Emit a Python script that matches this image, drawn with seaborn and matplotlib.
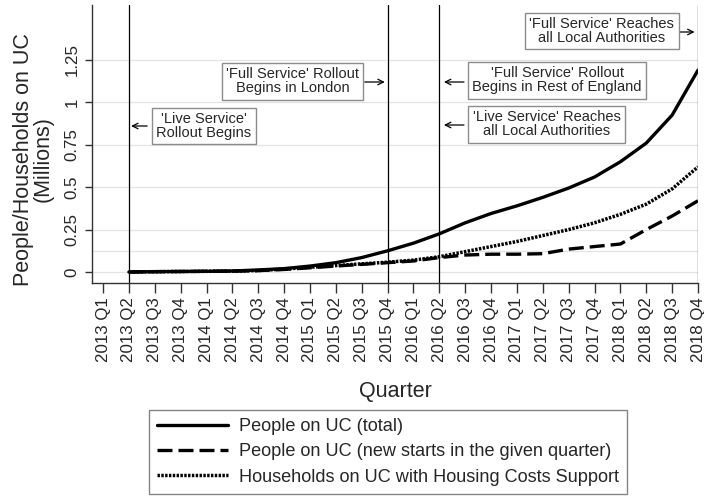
import numpy as np
import pandas as pd
import matplotlib
matplotlib.use("Agg")
import matplotlib.pyplot as plt
import seaborn as sns

quarters = [f"{y} Q{q}" for y in range(2013, 2019) for q in range(1, 5)]
people_total = [np.nan, 0.0, 0.002, 0.003, 0.004, 0.006, 0.012, 0.02, 0.035, 0.055, 0.085, 0.125,
                0.17, 0.225, 0.29, 0.345, 0.39, 0.44, 0.495, 0.56, 0.65, 0.76, 0.925, 1.19]
people_new = [np.nan, 0.0, 0.002, 0.003, 0.004, 0.005, 0.008, 0.015, 0.025, 0.035, 0.045, 0.055,
              0.065, 0.085, 0.10, 0.105, 0.105, 0.108, 0.135, 0.15, 0.165, 0.25, 0.33, 0.42]
households_hc = [np.nan, 0.0, 0.002, 0.003, 0.004, 0.005, 0.009, 0.017, 0.028, 0.038, 0.048, 0.058,
                 0.07, 0.09, 0.12, 0.15, 0.18, 0.215, 0.25, 0.29, 0.34, 0.40, 0.49, 0.62]
series_names = ["People on UC (total)",
                "People on UC (new starts in the given quarter)",
                "Households on UC with Housing Costs Support"]
event_quarters = ["2013 Q2", "2015 Q4", "2016 Q2", "2018 Q4"]
yticks = [0, 0.25, 0.5, 0.75, 1, 1.25]
ytick_labels = ["0", "0.25", "0.5", "0.75", "1", "1.25"]

sns.set_style("white")
plt.rcParams["font.family"] = ["Liberation Sans", "DejaVu Sans"]

fig = plt.figure(figsize=(7.04, 4.97), dpi=100)
ax = fig.add_axes([92/704, 1-283/497, (698-92)/704, (283-5)/497])

idx = np.arange(len(quarters))
df = pd.DataFrame({"idx": idx, "total": people_total, "new": people_new, "hh": households_hc})

sns.lineplot(data=df, x="idx", y="total", ax=ax, color="black", lw=2.4,
             label=series_names[0])
sns.lineplot(data=df, x="idx", y="new", ax=ax, color="black", lw=2.4,
             label=series_names[1])
sns.lineplot(data=df, x="idx", y="hh", ax=ax, color="black", lw=2.5,
             label=series_names[2])
lines = ax.get_lines()
lines[1].set_dashes([4.5, 1.8])
lines[2].set_dashes([0.7, 0.4])

for q in event_quarters:
    ax.axvline(quarters.index(q), color="black", lw=0.9, zorder=1)

for yv in yticks + [0.125]:
    ax.axhline(yv, color="#e3e3e3", lw=0.9, zorder=0)

ax.set_xlim(-(103-92)/25.8, 23)
ax.set_ylim(-11/169.6, 267/169.6)
ax.set_xticks(idx)
ax.set_xticklabels(quarters, rotation=90, fontsize=12.2)
ax.set_yticks(yticks)
ax.set_yticklabels(ytick_labels, rotation=90, va="center", fontsize=12.2)
ax.tick_params(axis="x", direction="out", length=7, width=1, color="#333333", pad=3, bottom=True)
ax.tick_params(axis="y", direction="out", length=5, width=1, color="#333333", pad=4, left=True)
ax.spines["top"].set_visible(False)
ax.spines["right"].set_visible(False)
for s in ["left", "bottom"]:
    ax.spines[s].set_color("#333333")
    ax.spines[s].set_linewidth(1)

ax.set_xlabel("Quarter", fontsize=15.5, labelpad=14)
ax.set_ylabel("People/Households on UC\n(Millions)", fontsize=15.5, linespacing=0.95)
ax.yaxis.set_label_coords(-0.063, 0.445)

box = dict(boxstyle="square,pad=0.3", fc="white", ec="#8c8c8c", lw=1)
def px2d(px, py):
    return ((px - 103) / 25.8, (272 - py) / 169.6)

notes = [
    ("'Live Service'\nRollout Begins", (203.5, 126), (147, 126), (131, 126)),
    ("'Full Service' Rollout\nBegins in London", (292, 81.5), (364, 82), (384, 82)),
    ("'Full Service' Rollout\nBegins in Rest of England", (556, 80.5), (463, 82), (443, 82)),
    ("'Live Service' Reaches\nall Local Authorities", (545.5, 124.5), (463, 125), (443, 125)),
    ("'Full Service' Reaches\nall Local Authorities", (600.5, 31), (678, 32), (693, 32)),
]
for txt, c, a0, a1 in notes:
    ax.text(*px2d(*c), txt, ha="center", va="center", fontsize=10.5, bbox=box,
            linespacing=1.0, zorder=5)
    ax.annotate("", xy=px2d(*a1), xytext=px2d(*a0),
                arrowprops=dict(arrowstyle="->", lw=0.9, color="black", shrinkA=0, shrinkB=0))

ax.get_legend().remove()
handles = ax.get_lines()[:3]
leg = fig.legend(handles, series_names, loc="upper left",
                 bbox_to_anchor=(149/704, 1-410/497), frameon=True, fancybox=False,
                 fontsize=13.1, handlelength=3.9, handletextpad=0.6,
                 labelspacing=0.45, borderpad=0.45, borderaxespad=0)
leg.get_frame().set_edgecolor("#666666")
leg.get_frame().set_linewidth(1)

fig.savefig("out.png", dpi=100)
